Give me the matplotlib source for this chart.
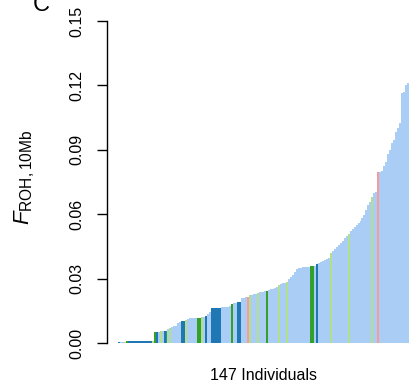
import matplotlib
matplotlib.use("Agg")
import matplotlib.pyplot as plt

plt.rcParams["font.family"] = ["Liberation Sans", "DejaVu Sans"]
plt.rcParams["mathtext.fontset"] = "custom"
plt.rcParams["mathtext.rm"] = "Liberation Sans"
plt.rcParams["mathtext.it"] = "Liberation Sans:italic"

# Per-individual inbreeding coefficient (ROH >= 10 Mb), sorted ascending
froh = [
    0.0006, 0.0006, 0.0006, 0.0006, 0.0007, 0.0007, 0.0007, 0.0007, 0.0007, 0.0007,
    0.0007, 0.0007, 0.0007, 0.0007, 0.0007, 0.0007, 0.0007, 0.0008, 0.0050, 0.0050,
    0.0052, 0.0054, 0.0056, 0.0058, 0.0058, 0.0064, 0.0070, 0.0076, 0.0079, 0.0080,
    0.0092, 0.0098, 0.0102, 0.0103, 0.0107, 0.0113, 0.0116, 0.0117, 0.0117, 0.0118,
    0.0118, 0.0118, 0.0120, 0.0122, 0.0126, 0.0135, 0.0145, 0.0163, 0.0164, 0.0164,
    0.0165, 0.0165, 0.0168, 0.0169, 0.0169, 0.0170, 0.0172, 0.0180, 0.0186, 0.0188,
    0.0190, 0.0191, 0.0208, 0.0210, 0.0212, 0.0216, 0.0222, 0.0225, 0.0227, 0.0229,
    0.0234, 0.0236, 0.0238, 0.0239, 0.0241, 0.0244, 0.0247, 0.0250, 0.0253, 0.0256,
    0.0262, 0.0270, 0.0274, 0.0278, 0.0280, 0.0286, 0.0300, 0.0308, 0.0315, 0.0330,
    0.0345, 0.0350, 0.0351, 0.0352, 0.0353, 0.0354, 0.0356, 0.0358, 0.0359, 0.0361,
    0.0367, 0.0372, 0.0378, 0.0383, 0.0388, 0.0393, 0.0398, 0.0420, 0.0428, 0.0436,
    0.0446, 0.0456, 0.0464, 0.0476, 0.0488, 0.0500, 0.0508, 0.0520, 0.0530, 0.0540,
    0.0548, 0.0557, 0.0567, 0.0580, 0.0598, 0.0620, 0.0643, 0.0658, 0.0680, 0.0700,
    0.0705, 0.0795, 0.0796, 0.0800, 0.0823, 0.0845, 0.0879, 0.0899, 0.0930, 0.0946,
    0.0984, 0.1000, 0.1024, 0.1164, 0.1170, 0.1200, 0.1212,
]

# Group of each individual (same order as froh)
group = (
    "BLLGD" + "B" * 12 + "G"
    + "DBLGLBDLGL"
    + "LLLLBBGLLL"
    + "LLDDGLBLLB"
    + "BBBBLLLLLD"
    + "LLBBLLLPGL"
    + "LLGLLLLDLL"
    + "LLLGLLLGLL"
    + "LLLLLLLLLD"
    + "DLBLLLLLLG"
    + "LLLLLLLLGL"
    + "LLLLLLLLLL"
    + "GLLPLLLLLL"
    + "LLLLLLLLL"
)

group_colors = {
    "L": "#aacdf5",
    "B": "#1f78b4",
    "G": "#b2df8a",
    "D": "#33a02c",
    "P": "#fb9a99",
}

yticks = [0.00, 0.03, 0.06, 0.09, 0.12, 0.15]
ytick_labels = ["0.00", "0.03", "0.06", "0.09", "0.12", "0.15"]

W, H = 409, 386
fig = plt.figure(figsize=(W / 100, H / 100), dpi=100)
ax = fig.add_axes([107 / W, 43 / H, 302 / W, 322 / H])
ax.patch.set_alpha(0)

n = len(froh)
ax.bar(range(n), froh, width=1.0, color=[group_colors[g] for g in group],
       edgecolor="none", linewidth=0)

ax.set_xlim(-6.06, n - 0.5)
ax.set_ylim(0, 0.15)

for s in ("top", "right", "bottom"):
    ax.spines[s].set_visible(False)
ax.spines["left"].set_bounds(0, 0.15)
ax.spines["left"].set_linewidth(1.0)

ax.set_xticks([])
ax.set_yticks(yticks)
ax.set_yticklabels(ytick_labels, rotation=90, va="center", fontsize=11.5)
ax.tick_params(axis="y", length=7.2, width=1.0, pad=9.0)

fig.text(264 / W, 1 - 375 / H, "147 Individuals", ha="center", va="center",
         fontsize=11.5)
fig.text(25 / W, 1 - 177 / H, r"$F_{\mathrm{ROH,10Mb}}$", rotation=90,
         ha="center", va="center", fontsize=16)
fig.text(41 / W, 1 - 11 / H, "C", ha="center", va="baseline", fontsize=17)

fig.savefig("out.png", dpi=100)
